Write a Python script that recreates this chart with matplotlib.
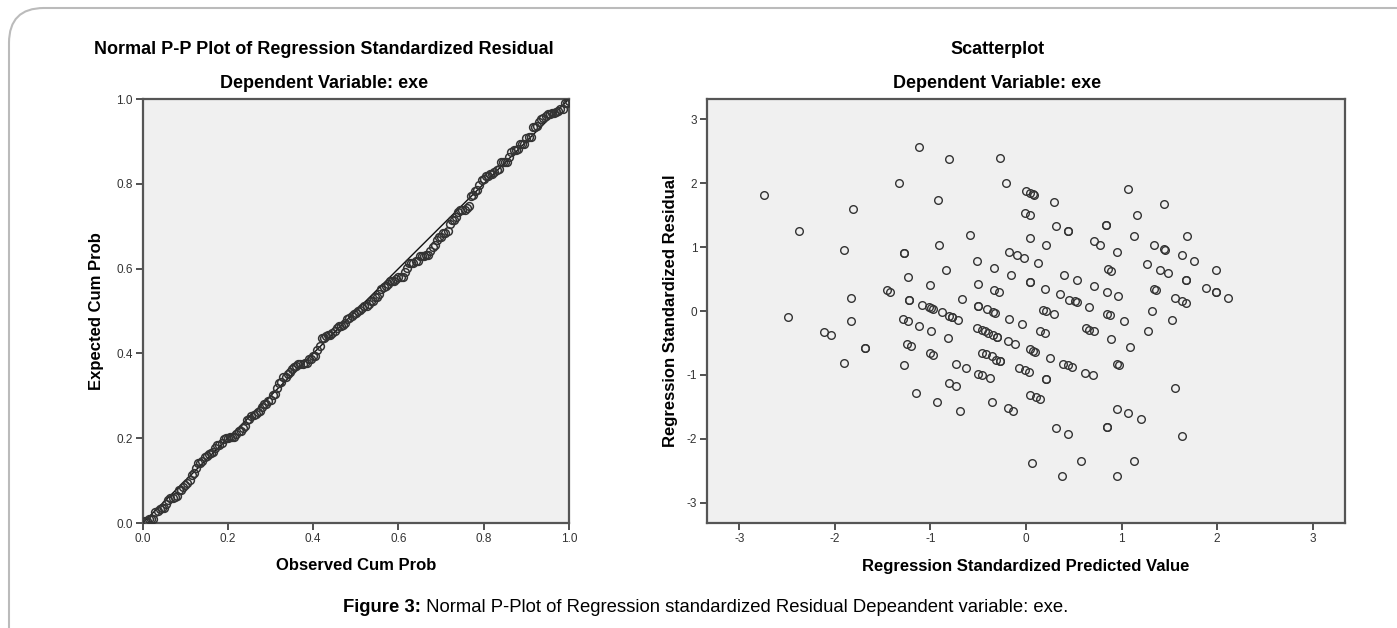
#!/usr/bin/env python3
"""
plot.py

SPSS-style regression diagnostics: normal P-P plot of standardized
residuals next to the residual vs. predicted scatterplot.
"""

import math
import numpy as np
import matplotlib
matplotlib.use("Agg")
import matplotlib.pyplot as plt
from matplotlib.patches import FancyBboxPatch

# ----------------------- data --------------------------------------------------
# standardized predicted value, standardized residual (one pair per case)
pred_vals = [
    -2.74, -2.38, -1.81, -1.91, -1.83, -1.83, -2.49, -1.33, -1.12, -0.81,
    -0.27, -0.21, -0.92, -0.59, -0.91, -1.28, -1.28, -0.84, -1.24, -1.01,
    -1.46, -1.42, -1.23, -1.23, -1.09, -1.02, -0.99, -0.97, -0.88, -0.81,
    -0.78, -0.77, -0.71, -1.29, -1.24, -1.12, -0.67, -0.51, -0.50, -0.33,
    -0.34, -0.28, -0.50, -0.50, -0.41, -0.35, -0.32, -0.18, -0.04, -0.18,
    -0.09, -0.02, -0.16, -0.005, 0.04, 0.07, 0.08, -0.01, 0.04, 0.29,
    0.04, 0.31, 0.44, 0.44, 0.21, 0.13, 0.04, 0.04, 0.20, 0.40,
    0.53, 0.36, 0.45, 0.51, 0.53, 0.66, 0.18, 0.21, 0.29, 0.71,
    0.85, 0.96, 0.86, 0.89, 0.71, 0.78, 0.95, 0.84, 0.84, 1.07,
    1.16, 1.13, 1.34, 1.45, 1.45, 1.46, 1.27, 1.40, 1.49, 1.34,
    1.36, 1.32, 1.53, 1.03, 0.85, 0.88, 1.56, 1.63, 1.69, 1.76,
    1.68, 1.68, 1.63, 1.67, 1.88, 1.99, 1.99, 1.99, 2.12,
    # lower half
    -2.11, -2.04, -1.69, -1.69, -1.91, -0.99, -0.82, -1.25, -1.20, -1.01,
    -0.97, -1.28, -0.73, -0.63, -0.50, -0.46, -0.38, -0.81, -0.73, -1.15,
    -0.93, -0.69, -0.51, -0.46, -0.43, -0.40, -0.35, -0.30, -0.30, -0.19,
    -0.11, -0.46, -0.42, -0.36, -0.31, -0.27, -0.27, -0.07, -0.01, 0.03,
    -0.36, -0.19, -0.14, 0.04, 0.10, 0.15, 0.21, 0.21, 0.04, 0.07,
    0.09, 0.15, 0.20, 0.25, 0.39, 0.44, 0.48, 0.62, 0.70, 0.63,
    0.66, 0.71, 0.89, 1.09, 1.28, 0.95, 0.97, 1.56, 0.95, 1.07,
    1.20, 0.31, 0.44, 0.85, 0.85, 1.63, 0.06, 0.58, 1.13, 0.38,
    0.95,
]
resid_vals = [
    1.82, 1.25, 1.60, 0.95, 0.20, -0.15, -0.09, 2.00, 2.57, 2.38,
    2.39, 2.00, 1.74, 1.19, 1.04, 0.91, 0.91, 0.64, 0.54, 0.40,
    0.33, 0.30, 0.18, 0.18, 0.10, 0.06, 0.04, 0.03, -0.02, -0.08,
    -0.09, -0.10, -0.14, -0.13, -0.16, -0.23, 0.19, 0.79, 0.43, 0.67,
    0.33, 0.29, 0.08, 0.08, 0.03, -0.01, -0.03, -0.12, -0.21, 0.93,
    0.88, 0.83, 0.57, 1.88, 1.85, 1.83, 1.82, 1.53, 1.50, 1.70,
    1.15, 1.33, 1.25, 1.25, 1.04, 0.75, 0.45, 0.45, 0.34, 0.57,
    0.49, 0.26, 0.18, 0.15, 0.14, 0.06, 0.02, 0.00, -0.05, 0.39,
    0.30, 0.23, 0.65, 0.62, 1.09, 1.04, 0.93, 1.35, 1.35, 1.91,
    1.50, 1.17, 1.04, 1.67, 0.97, 0.96, 0.74, 0.64, 0.59, 0.34,
    0.33, 0.005, -0.14, -0.16, -0.04, -0.07, 0.20, 0.87, 1.17, 0.78,
    0.48, 0.48, 0.16, 0.13, 0.36, 0.64, 0.29, 0.29, 0.20,
    # lower half
    -0.33, -0.37, -0.58, -0.58, -0.81, -0.31, -0.43, -0.51, -0.55, -0.66,
    -0.69, -0.84, -0.83, -0.90, -0.98, -1.00, -1.05, -1.13, -1.18, -1.28,
    -1.42, -1.56, -0.27, -0.29, -0.31, -0.34, -0.38, -0.40, -0.40, -0.47,
    -0.52, -0.65, -0.67, -0.70, -0.76, -0.78, -0.78, -0.90, -0.93, -0.96,
    -1.42, -1.52, -1.56, -1.31, -1.35, -1.38, -1.07, -1.07, -0.60, -0.63,
    -0.64, -0.32, -0.35, -0.74, -0.83, -0.85, -0.88, -0.97, -1.01, -0.27,
    -0.29, -0.32, -0.44, -0.56, -0.32, -0.83, -0.84, -1.21, -1.54, -1.60,
    -1.69, -1.83, -1.92, -1.82, -1.82, -1.95, -2.38, -2.35, -2.35, -2.58,
    -2.58,
]

pp_ticks      = [0.0, 0.2, 0.4, 0.6, 0.8, 1.0]
scatter_ticks = [-3, -2, -1, 0, 1, 2, 3]

TITLE_LEFT  = "Normal P-P Plot of Regression Standardized Residual"
TITLE_RIGHT = "Scatterplot"
SUBTITLE    = "Dependent Variable: exe"
CAPTION_B   = "Figure 3:"
CAPTION     = " Normal P-Plot of Regression standardized Residual Depeandent variable: exe."
# --------------------------------------------------------------------------------

W, H   = 1397, 628
BG     = "#F0F0F0"
FRAME  = "#555555"
MARKER = "#333333"
FONT   = "Liberation Sans"


def pp_points(resid):
    """Observed vs expected cumulative probability of the residuals."""
    r = np.sort(np.asarray(resid))
    n = len(r)
    observed = np.arange(1, n + 1) / n
    expected = np.array([0.5 * (1 + math.erf(v / math.sqrt(2))) for v in r])
    return observed, expected


def style_axes(ax):
    ax.set_facecolor(BG)
    for sp in ax.spines.values():
        sp.set_color(FRAME)
        sp.set_linewidth(1.6)
    ax.tick_params(direction="out", length=5, width=1.2, color="#333333",
                   labelsize=8.5, labelcolor="#333333", pad=2)


def main() -> None:
    plt.rcParams["font.family"] = [FONT, "DejaVu Sans"]
    plt.rcParams["axes.unicode_minus"] = False
    fig = plt.figure(figsize=(W / 100, H / 100), dpi=100)

    # rounded outer frame
    frame = FancyBboxPatch((9 / W, -0.2), 1.2, 1.2 - 8 / H,
                           boxstyle="round,pad=0,rounding_size=0.025",
                           transform=fig.transFigure, fill=False,
                           edgecolor="#BBBBBB", linewidth=1.5,
                           mutation_aspect=W / H)
    fig.patches.append(frame)

    bottom, height = 1 - 523 / H, (523 - 99) / H
    ax1 = fig.add_axes([142.7 / W, bottom, (569 - 142.7) / W, height])
    ax2 = fig.add_axes([707 / W, bottom, (1345 - 707) / W, height])

    # ---- P-P plot ----
    obs, exp_ = pp_points(resid_vals)
    ax1.plot([0, 1], [0, 1], color="#111111", lw=1.0, zorder=2)
    ax1.plot(obs, exp_, linestyle="none", marker="o", markersize=5.6,
             markerfacecolor="none", markeredgecolor=MARKER,
             markeredgewidth=1.1, zorder=3)
    ax1.set_xlim(0, 1)
    ax1.set_ylim(0, 1)
    ax1.set_xticks(pp_ticks)
    ax1.set_yticks(pp_ticks)
    ax1.set_xticklabels([f"{t:.1f}" for t in pp_ticks])
    ax1.set_yticklabels([f"{t:.1f}" for t in pp_ticks])
    style_axes(ax1)

    # ---- scatterplot ----
    ax2.plot(pred_vals, resid_vals, linestyle="none", marker="o",
             markersize=5.5, markerfacecolor="none", markeredgecolor=MARKER,
             markeredgewidth=1.0, zorder=3)
    ax2.set_xlim(-3.34, 3.34)
    ax2.set_ylim(-3.32, 3.32)
    ax2.set_xticks(scatter_ticks)
    ax2.set_yticks(scatter_ticks)
    style_axes(ax2)

    # ---- axis labels (placed in pixels) ----
    lab = dict(fontsize=12, fontweight="bold", ha="center", va="center")
    fig.text(356 / W, 1 - 566 / H, "Observed Cum Prob", **lab)
    fig.text(96 / W, 1 - 311 / H, "Expected Cum Prob", rotation=90, **lab)
    fig.text(1026 / W, 1 - 566 / H, "Regression Standardized Predicted Value", **lab)
    fig.text(670 / W, 1 - 311 / H, "Regression Standardized Residual", rotation=90, **lab)

    # ---- titles ----
    ttl = dict(fontsize=13, fontweight="bold", ha="center", va="center")
    fig.text(324 / W, 1 - 50 / H, TITLE_LEFT, **ttl)
    fig.text(324 / W, 1 - 84 / H, SUBTITLE, **ttl)
    fig.text(998 / W, 1 - 50 / H, TITLE_RIGHT, **ttl)
    fig.text(997 / W, 1 - 84 / H, SUBTITLE, **ttl)

    # ---- caption: bold lead-in followed by normal text ----
    cap_y = 1 - 607 / H
    t1 = fig.text(0, cap_y, CAPTION_B, ha="left", va="center",
                  fontsize=13.3, fontweight="bold")
    t2 = fig.text(0, cap_y, CAPTION, ha="left", va="center", fontsize=13.3)
    fig.canvas.draw()
    w1 = t1.get_window_extent().width
    w2 = t2.get_window_extent().width
    x0 = 706 - (w1 + w2) / 2
    t1.set_x(x0 / W)
    t2.set_x((x0 + w1) / W)

    fig.savefig("out.png", dpi=100)


if __name__ == "__main__":
    main()
